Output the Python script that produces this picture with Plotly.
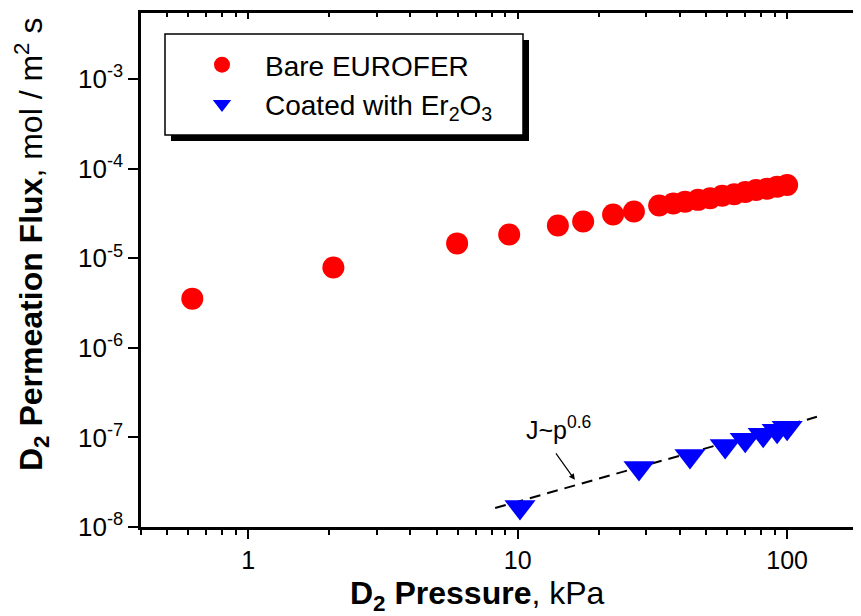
import numpy as np
import plotly.graph_objects as go

# ---- data ----
bare_p = [0.62, 2.07, 5.96, 9.3, 14.1, 17.5, 22.6, 27.0,
          33.5, 37.8, 41.8, 46.7, 51.8, 57.4, 63.6, 69.9, 76.7, 84.3, 91.8, 100]
bare_J = [3.55e-6, 7.9e-6, 1.47e-5, 1.85e-5, 2.33e-5, 2.58e-5, 3.09e-5, 3.34e-5,
          3.9e-5, 4.1e-5, 4.3e-5, 4.5e-5, 4.7e-5, 5.0e-5, 5.2e-5, 5.5e-5, 5.8e-5, 6.0e-5, 6.3e-5, 6.6e-5]

coat_p = [10.2, 28.2, 43.6, 58.9, 69.9, 81.5, 91.8, 100]
coat_J = [1.67e-8, 4.57e-8, 6.2e-8, 8.05e-8, 9.4e-8, 1.07e-7, 1.19e-7, 1.28e-7]

fit_p = [8.25, 129]
fit_J = [1.63e-8, 1.70e-7]

x_tickvals = [1, 10, 100]
x_ticktext = ["1", "10", "100"]
y_tickvals = [1e-8, 1e-7, 1e-6, 1e-5, 1e-4, 1e-3]
y_ticktext = ["10<sup>-8</sup>", "10<sup>-7</sup>", "10<sup>-6</sup>",
              "10<sup>-5</sup>", "10<sup>-4</sup>", "10<sup>-3</sup>"]

FONT = "Liberation Sans, Arial, sans-serif"

fig = go.Figure()
fig.add_trace(go.Scatter(x=fit_p, y=fit_J, mode="lines",
                         line=dict(color="black", width=2, dash="11px,7px"),
                         showlegend=False, hoverinfo="skip"))
fig.add_trace(go.Scatter(x=bare_p, y=bare_J, mode="markers", name="Bare EUROFER",
                         marker=dict(symbol="circle", size=22, color="#ff0000")))
fig.add_trace(go.Scatter(x=coat_p, y=coat_J, mode="markers",
                         name="Coated with Er<sub>2</sub>O<sub>3</sub>",
                         marker=dict(symbol="triangle-down", size=27, color="#0000ff")))

OFF = 8  # page body margin
W, H = 853, 608
L, R, T = 141 - OFF, 0, 13 - OFF
B = H - (527 - OFF)
pw, ph = W - L - R, H - T - B

def px(xs):
    return (xs - OFF - L) / pw

def py(ys):
    return (H - B - (ys - OFF)) / ph

# legend box with shadow
fig.add_shape(type="rect", xref="paper", yref="paper",
              x0=px(171), x1=px(529), y0=py(141), y1=py(40),
              fillcolor="black", line=dict(width=0), layer="above")
fig.add_shape(type="rect", xref="paper", yref="paper",
              x0=px(165), x1=px(523), y0=py(135), y1=py(34),
              fillcolor="white", line=dict(color="black", width=1.5), layer="above")

xrange = [np.log10(0.4), np.log10(188)]
yrange = [-8, -2.26]

fig.update_layout(
    width=W, height=H,
    margin=dict(l=L, r=R, t=T, b=B),
    paper_bgcolor="white", plot_bgcolor="white",
    font=dict(family=FONT, color="black", size=22),
    showlegend=True,
    legend=dict(x=px(179), y=py(40), xanchor="left", yanchor="top",
                bgcolor="rgba(0,0,0,0)", borderwidth=0,
                font=dict(size=28, family=FONT), itemsizing="trace",
                itemwidth=76, tracegroupgap=0),
    xaxis=dict(type="log", range=xrange, showgrid=False, zeroline=False,
               showline=True, linecolor="black", linewidth=2.5, mirror=True,
               ticks="outside", ticklen=9, tickwidth=2, tickcolor="black",
               tickvals=x_tickvals, ticktext=x_ticktext,
               tickfont=dict(size=25),
               minor=dict(ticks="outside", ticklen=5, tickwidth=2, tickcolor="black",
                          dtick="D1", showgrid=False)),
    xaxis2=dict(type="log", range=xrange, overlaying="x", side="top",
                showgrid=False, zeroline=False, showline=False,
                ticks="inside", ticklen=6, tickwidth=1.5, tickcolor="black",
                tickvals=x_tickvals, showticklabels=False,
                minor=dict(ticks="inside", ticklen=4, tickwidth=1.5, tickcolor="black",
                           dtick="D1", showgrid=False)),
    yaxis=dict(type="log", range=yrange, showgrid=False, zeroline=False,
               showline=True, linecolor="black", linewidth=2.5, mirror=False,
               ticks="outside", ticklen=10, tickwidth=2, tickcolor="black",
               tickvals=y_tickvals, ticktext=y_ticktext,
               tickfont=dict(size=26)),
    annotations=[
        dict(x=px(558), y=py(428), xref="paper", yref="paper",
             text="J~p<sup>0.6</sup>", showarrow=False,
             xanchor="center", yanchor="middle", font=dict(size=25)),
        dict(x=np.log10(16.3), y=np.log10(3.36e-8), xref="x", yref="y",
             text="", showarrow=True,
             ax=-20, ay=-28, arrowhead=2, arrowsize=1, arrowwidth=1.2,
             arrowcolor="black"),
        dict(x=px(477), y=py(595), xref="paper", yref="paper",
             text="<b>D<sub>2</sub> Pressure</b>, kPa", showarrow=False,
             xanchor="center", yanchor="middle", font=dict(size=32)),
        dict(x=px(32), y=py(245), xref="paper", yref="paper",
             text="<b>D<sub>2</sub> Permeation Flux</b>, mol / m<sup>2</sup> s",
             showarrow=False, textangle=-90,
             xanchor="center", yanchor="middle", font=dict(size=32)),
    ],
)
# invisible trace so the top axis renders
fig.add_trace(go.Scatter(x=[1], y=[1e-5], xaxis="x2", mode="markers",
                         marker=dict(opacity=0), showlegend=False, hoverinfo="skip"))

fig.write_html("out.html")
